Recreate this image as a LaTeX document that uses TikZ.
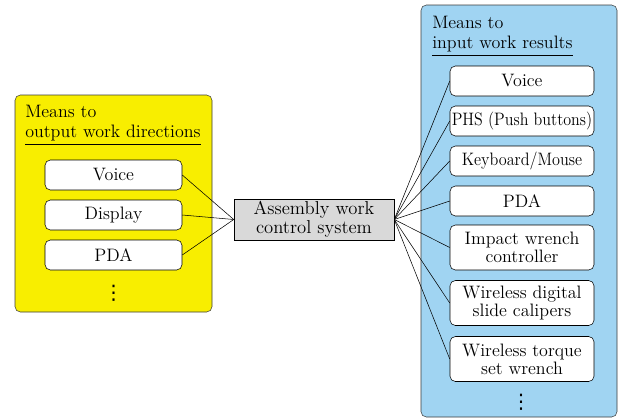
\documentclass[tikz,border=0pt]{standalone}
\usepackage{fontspec}
\usepackage{tikz}
\newfontfamily\dotsfont{DejaVu Sans}

\definecolor{outyellow}{RGB}{248,238,0}
\definecolor{inblue}{RGB}{160,212,242}
\definecolor{ctrlgray}{RGB}{217,217,217}
\definecolor{edgegray}{RGB}{60,60,60}

\newcommand{\squeeze}[2][0.89]{\scalebox{#1}[1]{#2}}

\tikzset{
	groupbox/.style={draw=edgegray, rounded corners=4pt, inner sep=0pt},
	grouptitle/.style={align=left, anchor=north west, inner sep=0pt, font=\fontsize{13.5}{15}\selectfont},
	meansbox/.style={draw=black, fill=white, rounded corners=4pt, inner sep=0pt, align=center,
		minimum width=#1, minimum height=22.5pt, font=\fontsize{13.5}{13.5}\selectfont},
	meansbox/.default=102.75pt,
	ctrlbox/.style={draw=black, fill=ctrlgray, inner sep=0pt, align=center,
		minimum width=120pt, minimum height=30.75pt, font=\fontsize{14}{14}\selectfont},
	vdots/.style={inner sep=0pt, font=\dotsfont\fontsize{15}{15}\selectfont}
}

\begin{document}
\begin{tikzpicture}[x=0.75pt, y=-0.75pt]
	\useasboundingbox (0,0) rectangle (618,418);

	% output side
	\node[groupbox, fill=outyellow, minimum width=147.75pt, minimum height=162.75pt] (outgrp) at (113.5,203.5) {};
	\node[grouptitle] (outtitle) at (25,105) {Means to\\output work directions};
	\node[meansbox]   (ovoice)   at (113.5,175) {Voice};
	\node[meansbox]   (odisplay) at (113.5,215) {Display};
	\node[meansbox]   (opda)     at (113.5,255) {PDA};
	\node[vdots]      (odots)    at (113.5,293) {⋮};

	% control system
	\node[ctrlbox] (ctrl) at (314,219.5) {Assembly work\\control system};

	% input side
	\node[groupbox, fill=inblue, minimum width=147pt, minimum height=309pt] (ingrp) at (519,211) {};
	\node[grouptitle] (intitle) at (432,16) {Means to\\input work results};
	\node[meansbox=108pt]                          (ivoice)    at (522,81)    {Voice};
	\node[meansbox=108pt]                          (iphs)      at (522,121)   {\squeeze{PHS (Push buttons)}};
	\node[meansbox=108pt]                          (ikeyboard) at (522,161)   {\squeeze[0.9]{Keyboard/Mouse}};
	\node[meansbox=108pt]                          (ipda)      at (522,201)   {PDA};
	\node[meansbox=108pt, minimum height=33.75pt]  (iimpact)   at (522,247.5) {Impact wrench\\controller};
	\node[meansbox=108pt, minimum height=33.75pt]  (icalipers) at (522,303)   {Wireless digital\\slide calipers};
	\node[meansbox=108pt, minimum height=33.75pt]  (itorque)   at (522,359)   {Wireless torque\\set wrench};
	\node[vdots]                                   (idots)     at (521,402)   {⋮};

	% title underlines
	\draw[black] ([yshift=-2.5pt]outtitle.south west) -- ([yshift=-2.5pt]outtitle.south east);
	\draw[black] ([yshift=-2.5pt]intitle.south west) -- ([yshift=-2.5pt]intitle.south east);

	\path [-] (ovoice.east)   edge (ctrl.west);
	\path [-] (odisplay.east) edge (ctrl.west);
	\path [-] (opda.east)     edge (ctrl.west);

	\path [-] (ctrl.east) edge (ivoice.west);
	\path [-] (ctrl.east) edge (iphs.west);
	\path [-] (ctrl.east) edge (ikeyboard.west);
	\path [-] (ctrl.east) edge (ipda.west);
	\path [-] (ctrl.east) edge (iimpact.west);
	\path [-] (ctrl.east) edge (icalipers.west);
	\path [-] (ctrl.east) edge (itorque.west);
\end{tikzpicture}
\end{document}
